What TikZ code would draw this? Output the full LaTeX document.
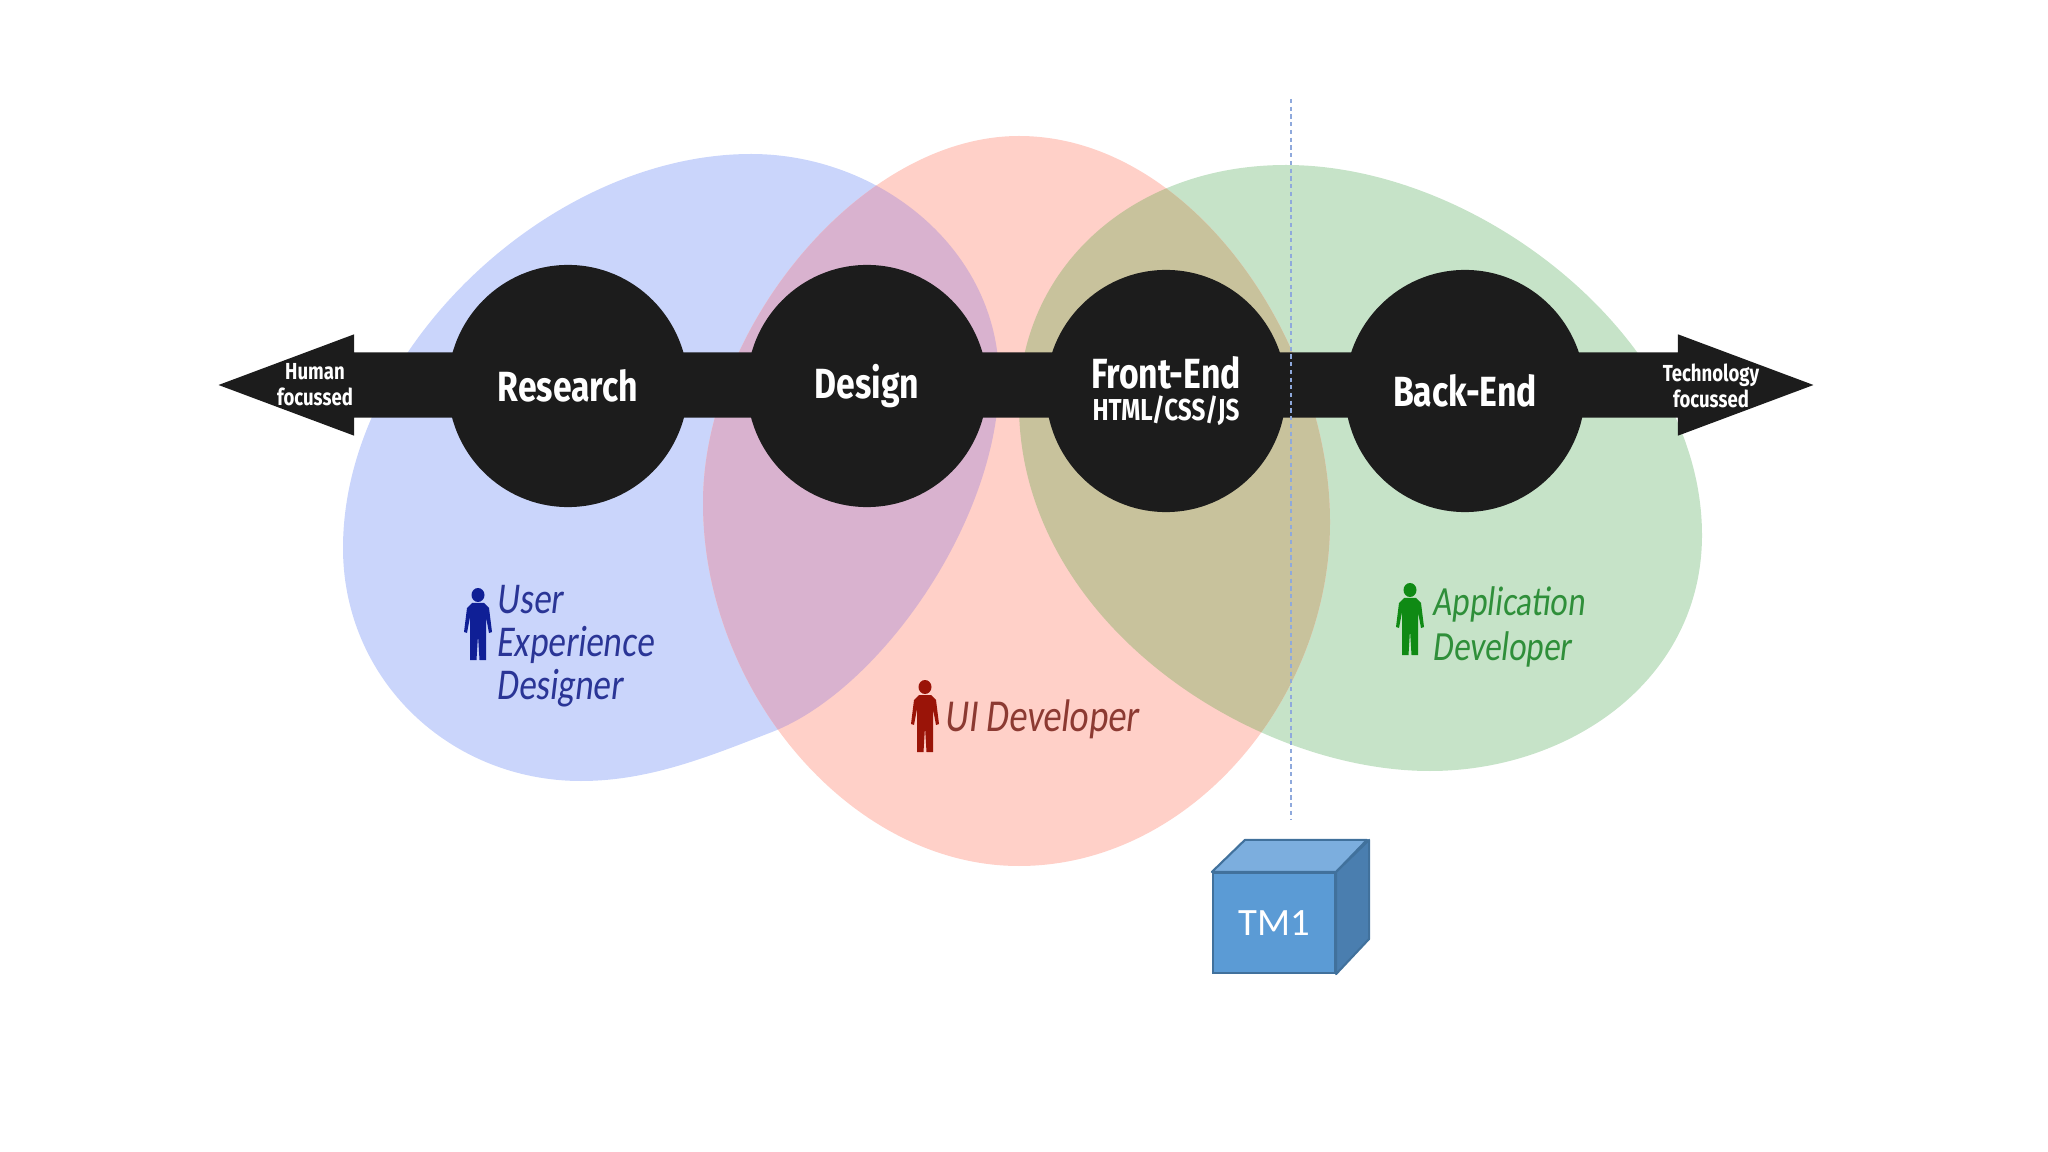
\documentclass[tikz,border=0pt]{standalone}
\usepackage{fontspec}
\usetikzlibrary{shapes.geometric, shapes.arrows, calc}
\newfontfamily\blockfont[FakeStretch=.8]{Fira Sans Bold}
\newfontfamily\handfont[FakeStretch=.8,FakeSlant=.12]{Carlito}
\newfontfamily\boxfont{Carlito}
\definecolor{spinecol}{HTML}{1C1C1C}
\definecolor{blobblue}{HTML}{CAD5FB}
\definecolor{blobpink}{HTML}{FFD0C8}
\definecolor{blobgreen}{HTML}{C6E3C8}
\definecolor{blobmauve}{HTML}{D9B2CF}
\definecolor{blobolive}{HTML}{C8C29C}
\definecolor{inkblue}{HTML}{2A3596}
\definecolor{inkred}{HTML}{8C3A32}
\definecolor{inkgreen}{HTML}{2F8F3A}
\definecolor{figblue}{HTML}{0F1F96}
\definecolor{figred}{HTML}{9A1408}
\definecolor{figgreen}{HTML}{0F8A14}
\definecolor{cubefront}{HTML}{5B9BD5}
\definecolor{cubetop}{HTML}{7CAEDE}
\definecolor{cubeside}{HTML}{4A7EAF}
\definecolor{cubeedge}{HTML}{41719C}
\definecolor{markcol}{HTML}{8FA9DC}
\tikzset{
  stage/.style={ellipse, fill=spinecol, text=white, inner sep=0pt, minimum width=2.4cm, minimum height=2.42cm,
    align=center, font=\blockfont\fontsize{12}{12}\selectfont},
  endlabel/.style={text=white, align=center, inner sep=0pt, font=\blockfont\fontsize{6.6}{7.4}\selectfont},
  rolelabel/.style={anchor=west, align=left, inner sep=0pt, font=\handfont\fontsize{12.5}{12.2}\selectfont},
  person/.pic={
    \path[pic actions] (0,7) circle [x radius=6.5, y radius=7];
    \path[pic actions] (-6,15) -- (6,15) -- (11,20) -- (14,44) -- (11,45) -- (8,29) -- (8,72) -- (1.5,72)
      -- (0,47) -- (-1.5,72) -- (-8,72) -- (-8,29) -- (-11,45) -- (-14,44) -- (-11,20) -- cycle;
  }
}
\begin{document}
\begin{tikzpicture}[x=.01cm, y=-.01cm]
  \useasboundingbox (0,0) rectangle (2048,1152);
  \def\blueblob{(751,154) .. controls (880,154) and (999,250) .. (999,379)
    .. controls (999,520) and (880,690) .. (772,732) .. controls (710,756) and (650,781) .. (581,781)
    .. controls (450,781) and (343,680) .. (343,548) .. controls (343,350) and (550,154) .. (751,154) -- cycle}
  \def\pinkblob{(1019,136) .. controls (1190,136) and (1330,340) .. (1330,522)
    .. controls (1330,700) and (1190,866) .. (1019,866) .. controls (850,866) and (703,690) .. (703,503)
    .. controls (703,330) and (860,136) .. (1019,136) -- cycle}
  \def\greenblob{(1286,165) .. controls (1480,165) and (1702,340) .. (1702,535)
    .. controls (1702,680) and (1570,771) .. (1430,771) .. controls (1250,771) and (1019,620) .. (1019,405)
    .. controls (1019,270) and (1130,165) .. (1286,165) -- cycle}
  % the three areas and where they meet
  \fill[blobblue] \blueblob;
  \fill[blobgreen] \greenblob;
  \fill[blobpink] \pinkblob;
  \begin{scope}
    \clip \pinkblob;
    \fill[blobmauve] \blueblob;
    \fill[blobolive] \greenblob;
  \end{scope}
  % spine
  \node[double arrow, fill=spinecol, inner xsep=0pt, inner ysep=.32cm, minimum height=15.94cm,
    double arrow head extend=.18cm, double arrow tip angle=41, double arrow head indent=0cm]
    (spine) at (1016,385) {};
  \node[endlabel] (human) at (315,385) {Human\\focussed};
  \node[endlabel] (techno) at (1711,386) {Technology\\focussed};
  \foreach \name/\cx/\cy/\body in {research/568/386/Research, design/867/386/Design, backend/1465/391/Back-End}{
    \node[stage] (\name) at (\cx,\cy) {\body};
  }
  \node[stage] (frontend) at (1166,391) {Front-End\\[-3pt]{\blockfont\fontsize{8.6}{8.6}\selectfont HTML/CSS/JS}};
  % people
  \pic[fill=figblue] (uxfig) at (478,588) {person};
  \pic[fill=figred] (uifig) at (925,680) {person};
  \pic[fill=figgreen] (appfig) at (1410,583) {person};
  \node[rolelabel, text=inkblue] (ux) at (496,646) {User\\Experience\\Designer};
  \node[rolelabel, text=inkred, font=\handfont\fontsize{13}{13}\selectfont] (ui) at (944,719) {UI Developer};
  \node[rolelabel, text=inkgreen, font=\handfont\fontsize{11.8}{12.8}\selectfont] (app) at (1432,627) {Application\\Developer};
  % cube
  \node[rectangle, draw=cubeedge, fill=cubefront, line width=.6pt, minimum width=1.22cm, minimum height=1cm,
    inner sep=0pt, text=white, font=\boxfont\fontsize{11}{12}\selectfont] (tmfront) at (1274,923) {TM1};
  \draw[cubeedge, fill=cubetop, line width=.6pt, line join=round] (tmfront.north west) -- ++(33,-32) -- ++(122,0)
    -- (tmfront.north east) -- cycle;
  \draw[cubeedge, fill=cubeside, line width=.6pt, line join=round] (tmfront.north east) -- ++(33,-32) -- ++(0,99)
    -- (tmfront.south east) -- cycle;
  % TM1 marker
  \coordinate (marktop) at (1291,99);
  \coordinate (markend) at (1291,820);
  \draw[markcol, line width=.3pt, dash pattern=on 1.2pt off 1pt] (marktop) -- (markend);
\end{tikzpicture}
\end{document}
